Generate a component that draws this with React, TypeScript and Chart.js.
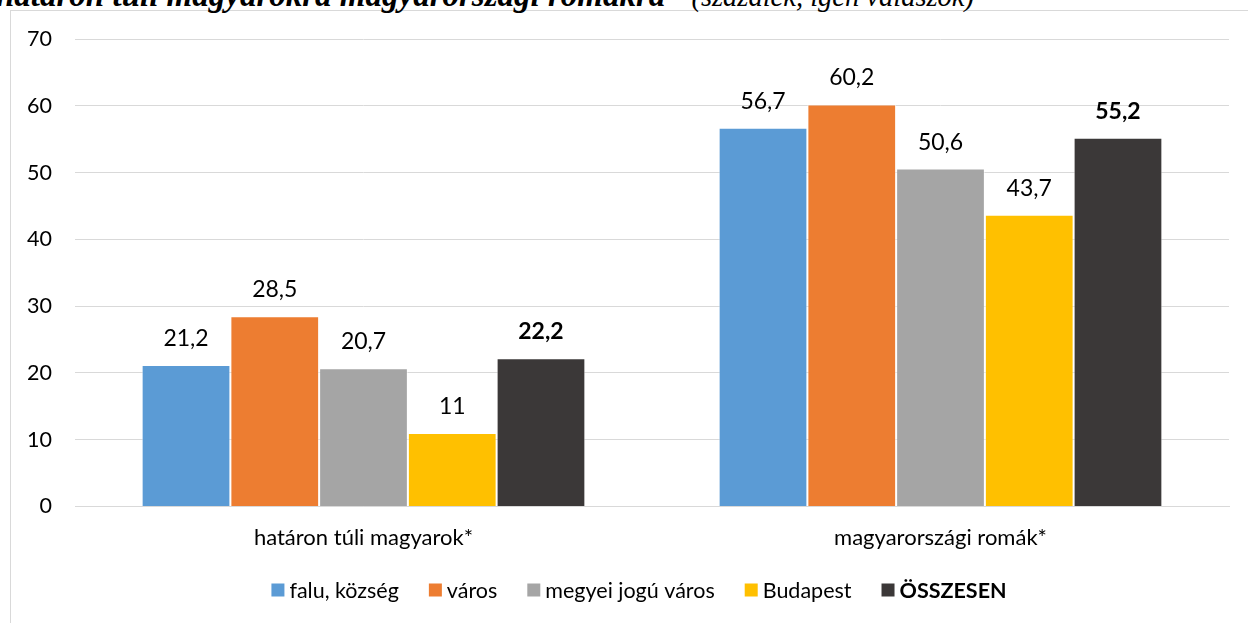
import React, { useEffect, useRef } from 'react';
import { Chart, registerables } from 'chart.js';

Chart.register(...registerables);

const categories = ['határon túli magyarok*', 'magyarországi romák*'];
const seriesNames = ['falu, község', 'város', 'megyei jogú város', 'Budapest', 'ÖSSZESEN'];
const faluKozseg = [21.2, 56.7];
const varos = [28.5, 60.2];
const megyeiJoguVaros = [20.7, 50.6];
const budapest = [11, 43.7];
const osszesen = [22.2, 55.2];
const seriesValues = [faluKozseg, varos, megyeiJoguVaros, budapest, osszesen];
const seriesColors = ['#5B9BD5', '#ED7D31', '#A5A5A5', '#FFC000', '#3B3838'];
const boldSeries = [false, false, false, false, true];
const yMin = 0;
const yMax = 70;
const yStep = 10;

const FONT = 'Lato, "Open Sans", sans-serif';

const fmt = (v: number) => String(v).replace('.', ',');

const dataLabelPlugin = {
  id: 'dataLabels',
  afterDatasetsDraw(chart: any) {
    const ctx = chart.ctx;
    chart.data.datasets.forEach((ds: any, i: number) => {
      const meta = chart.getDatasetMeta(i);
      ctx.save();
      ctx.font = `${boldSeries[i] ? 'bold ' : ''}23px ${FONT}`;
      ctx.fillStyle = '#000';
      ctx.textAlign = 'center';
      ctx.textBaseline = 'alphabetic';
      meta.data.forEach((bar: any, j: number) => {
        ctx.fillText(fmt(ds.data[j]), bar.x, bar.y - 19);
      });
      ctx.restore();
    });
  },
};

const legendPlugin = {
  id: 'customLegend',
  afterDraw(chart: any) {
    const ctx = chart.ctx;
    const box = 13;
    const gapText = 5;
    const gapItem = 30;
    const cy = 590;
    const centerX = 639;
    const size = 21.5;
    ctx.save();
    const widths = chart.data.datasets.map((ds: any, i: number) => {
      ctx.font = `${boldSeries[i] ? 'bold ' : ''}${size}px ${FONT}`;
      return box + gapText + ctx.measureText(ds.label).width;
    });
    const total = widths.reduce((a: number, b: number) => a + b, 0) + gapItem * (widths.length - 1);
    let x = centerX - total / 2;
    chart.data.datasets.forEach((ds: any, i: number) => {
      ctx.fillStyle = ds.backgroundColor;
      ctx.fillRect(x, cy - box / 2, box, box);
      ctx.font = `${boldSeries[i] ? 'bold ' : ''}${size}px ${FONT}`;
      ctx.fillStyle = '#000';
      ctx.textAlign = 'left';
      ctx.textBaseline = 'middle';
      ctx.fillText(ds.label, x + box + gapText, cy + 1);
      x += widths[i] + gapItem;
    });
    ctx.restore();
  },
};

export default function App() {
  const canvasRef = useRef<HTMLCanvasElement | null>(null);

  useEffect(() => {
    let chart: Chart | null = null;
    let cancelled = false;
    const build = () => {
      if (cancelled || !canvasRef.current) return;
      chart = new Chart(canvasRef.current, {
        type: 'bar',
        data: {
          labels: categories,
          datasets: seriesNames.map((name, i) => ({
            label: name,
            data: seriesValues[i],
            backgroundColor: seriesColors[i],
            borderColor: 'rgba(255,255,255,0.6)',
            borderWidth: 1,
            categoryPercentage: 0.769,
            barPercentage: 1,
          })),
        },
        options: {
          animation: false,
          responsive: false,
          events: [],
          layout: { padding: { top: 39, right: 19, left: 0, bottom: 0 } },
          plugins: {
            legend: { display: false },
            title: { display: false },
            tooltip: { enabled: false },
          },
          scales: {
            x: {
              grid: { display: false, drawTicks: false },
              border: { display: true, color: '#d9d9d9', width: 1 },
              ticks: { font: { family: FONT, size: 22 }, color: '#000', padding: 18 },
              afterFit: (scale: any) => {
                scale.height = 116.5;
              },
            },
            y: {
              min: yMin,
              max: yMax,
              grid: { color: '#d9d9d9', drawTicks: false, lineWidth: 1 },
              border: { display: false },
              ticks: { stepSize: yStep, font: { family: FONT, size: 21.5 }, color: '#000', padding: 23 },
              afterFit: (scale: any) => {
                scale.width = 75;
              },
            },
          },
        },
        plugins: [dataLabelPlugin, legendPlugin],
      });
    };
    const fonts = (document as any).fonts;
    if (fonts && fonts.load) {
      Promise.all([
        fonts.load(`19px Lato`),
        fonts.load(`bold 19px Lato`),
        fonts.load(`bold italic 28px "Liberation Serif"`),
      ]).then(build, build);
    } else {
      build();
    }
    return () => {
      cancelled = true;
      if (chart) chart.destroy();
    };
  }, []);

  return (
    <div
      style={{
        position: 'absolute',
        left: 0,
        top: 0,
        width: 1248,
        height: 623,
        overflow: 'hidden',
        background: '#fff',
      }}
    >
      <div
        style={{
          position: 'absolute',
          left: 10,
          top: 10,
          width: 1400,
          height: 800,
          border: '1px solid #d9d9d9',
          boxSizing: 'border-box',
        }}
      />
      <div
        style={{
          position: 'absolute',
          left: -4,
          top: -21,
          whiteSpace: 'nowrap',
          fontFamily: '"Liberation Serif", "Times New Roman", serif',
          fontSize: 28.5,
          lineHeight: '32px',
          fontStyle: 'italic',
          color: '#000',
        }}
      >
        <span style={{ fontWeight: 'bold', fontSize: 33 }}>határon túli magyarokra magyarországi romákra</span>
        <span style={{ paddingLeft: 19 }}> (százalék, igen válaszok)</span>
      </div>
      <canvas
        ref={canvasRef}
        width={1248}
        height={623}
        style={{ position: 'absolute', left: 0, top: 0, width: 1248, height: 623 }}
      />
    </div>
  );
}
